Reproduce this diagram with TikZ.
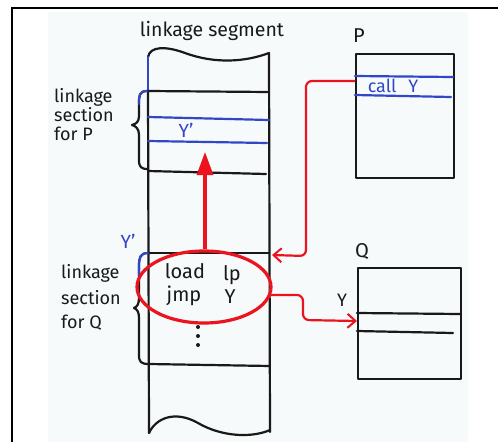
\documentclass[tikz,border=0pt]{standalone}
\usepackage{fontspec}
\setmainfont{Fira Sans}
\usetikzlibrary{arrows.meta,shapes.geometric}
\definecolor{pen}{RGB}{25,25,25}
\definecolor{bpen}{RGB}{50,70,200}
\definecolor{rpen}{RGB}{235,20,30}
\definecolor{paper}{RGB}{247,250,250}
\tikzset{
  ink/.style={draw=pen,line width=2.2pt,line cap=round,line join=round},
  bink/.style={draw=bpen,line width=2.2pt,line cap=round},
  rlink/.style={draw=rpen,line width=2.2pt,rounded corners=6pt,-{Straight Barb[length=8pt,width=14pt,line width=2pt]}},
  lbl/.style={font=\fontsize{18}{19}\selectfont,text=pen,inner sep=0pt,align=left},
  blbl/.style={font=\fontsize{19}{22}\selectfont,text=bpen,inner sep=0pt},
  box/.style={ink,rectangle,inner sep=0pt,anchor=north west}
}
\begin{document}
\begin{tikzpicture}[x=1pt,y=-1pt]
\useasboundingbox (0,0) rectangle (498,442);
\fill[paper] (48,12) rectangle (468,442);
\draw[black,line width=1.3pt] (12,442) -- (12,8) -- (498,8);

% linkage segment
\node[font=\fontsize{19.5}{24}\selectfont,text=pen,inner sep=0pt] (title) at (212,31) {linkage segment};
\draw[ink] (148,57) .. controls (150,46) and (166,46) .. (185,53) .. controls (215,64) and (245,62) .. (269,53);
\draw[bink] (148,57) -- (148,91);
\draw[ink] (148,91) -- (149,433);
\draw[ink] (269,53) -- (270,432);
\draw[ink] (149,433) .. controls (156,418) and (175,410) .. (198,423) .. controls (222,437) and (252,438) .. (270,430);
\draw[ink] (148,91) -- (269,92);
\draw[bink] (148,117) -- (269,120);
\draw[bink] (148,141) -- (267,143);
\draw[ink] (148,171) -- (266,174);
\draw[ink] (148,253) -- (269,253);
\draw[ink] (149,364) -- (270,366);
\node[blbl] (yp1) at (186,130) {Y'};

% braces
\draw[ink] (147,91) .. controls (139,91) and (139,96) .. (139,104) -- (139,116) .. controls (139,122) and (136,124) .. (132,125) .. controls (136,126) and (139,129) .. (139,135) -- (139,160) .. controls (139,167) and (141,169) .. (148,169);
\draw[bink] (147,91) .. controls (139,91) and (139,96) .. (139,104);
\draw[ink] (148,253) .. controls (140,253) and (139,258) .. (139,266) -- (139,298) .. controls (139,304) and (137,307) .. (134,308) .. controls (137,309) and (139,312) .. (139,318) -- (139,355) .. controls (139,362) and (141,364) .. (149,364);
\draw[bink] (148,253) .. controls (140,253) and (139,258) .. (139,266) -- (139,275);

\node[lbl,anchor=north west] (secP) at (54,88) {linkage\\section\\for P};
\node[lbl,anchor=north west] (secQ) at (61,264) {linkage\\[7pt]section\\[5pt]for Q};
\node[blbl] (yp2) at (128,241) {Y'};

% P box
\node[box,minimum width=98pt,minimum height=124pt] (P) at (355,53) {};
\node[lbl,font=\fontsize{20}{22}\selectfont] (Plbl) at (359,36) {P};
\draw[bink] (355,76) -- (453,77);
\draw[bink] (355,95) -- (451,97);
\node[blbl,font=\fontsize{18}{20}\selectfont] (call) at (393,86) {call\hspace{12pt}Y};
\coordinate (callL) at (355,81);

% Q box
\node[box,minimum width=103pt,minimum height=111pt] (Q) at (357,267) {};
\node[lbl,font=\fontsize{20}{22}\selectfont] (Qlbl) at (362,252) {Q};
\node[lbl] (Ylbl) at (342,300) {Y};
\draw[ink] (357,313) -- (460,314);
\draw[ink] (357,331) -- (453,333);
\coordinate (qY) at (357,321);

% ellipse & contents
\node[draw=rpen,line width=3.2pt,ellipse,minimum width=134pt,minimum height=72pt,inner sep=0pt] (ell) at (204,287) {};
\node[lbl,font=\fontsize{20}{22}\selectfont] (load) at (185,271) {load};
\node[lbl,font=\fontsize{20}{22}\selectfont] (lp) at (232,275) {lp};
\node[lbl,font=\fontsize{20}{22}\selectfont] (jmp) at (184,296) {jmp};
\node[lbl,font=\fontsize{20}{22}\selectfont] (jY) at (230,297) {Y};
\foreach \yy in {327,336,345} \fill[pen] (198,\yy) circle (2pt);

% red connectors
\coordinate (segIn) at (272,255);
\coordinate (segOut) at (270,295);
\draw[rlink] (callL) -- (306,81) -- (306,256) -- (segIn);
\draw[rlink] (segOut) -- (303,295) -- (303,320) -- (qY);
\draw[draw=rpen,line width=3.2pt,-{Triangle[length=23pt,width=16pt]}] (ell.north -| 205,0) -- (205,152);
\end{tikzpicture}
\end{document}
